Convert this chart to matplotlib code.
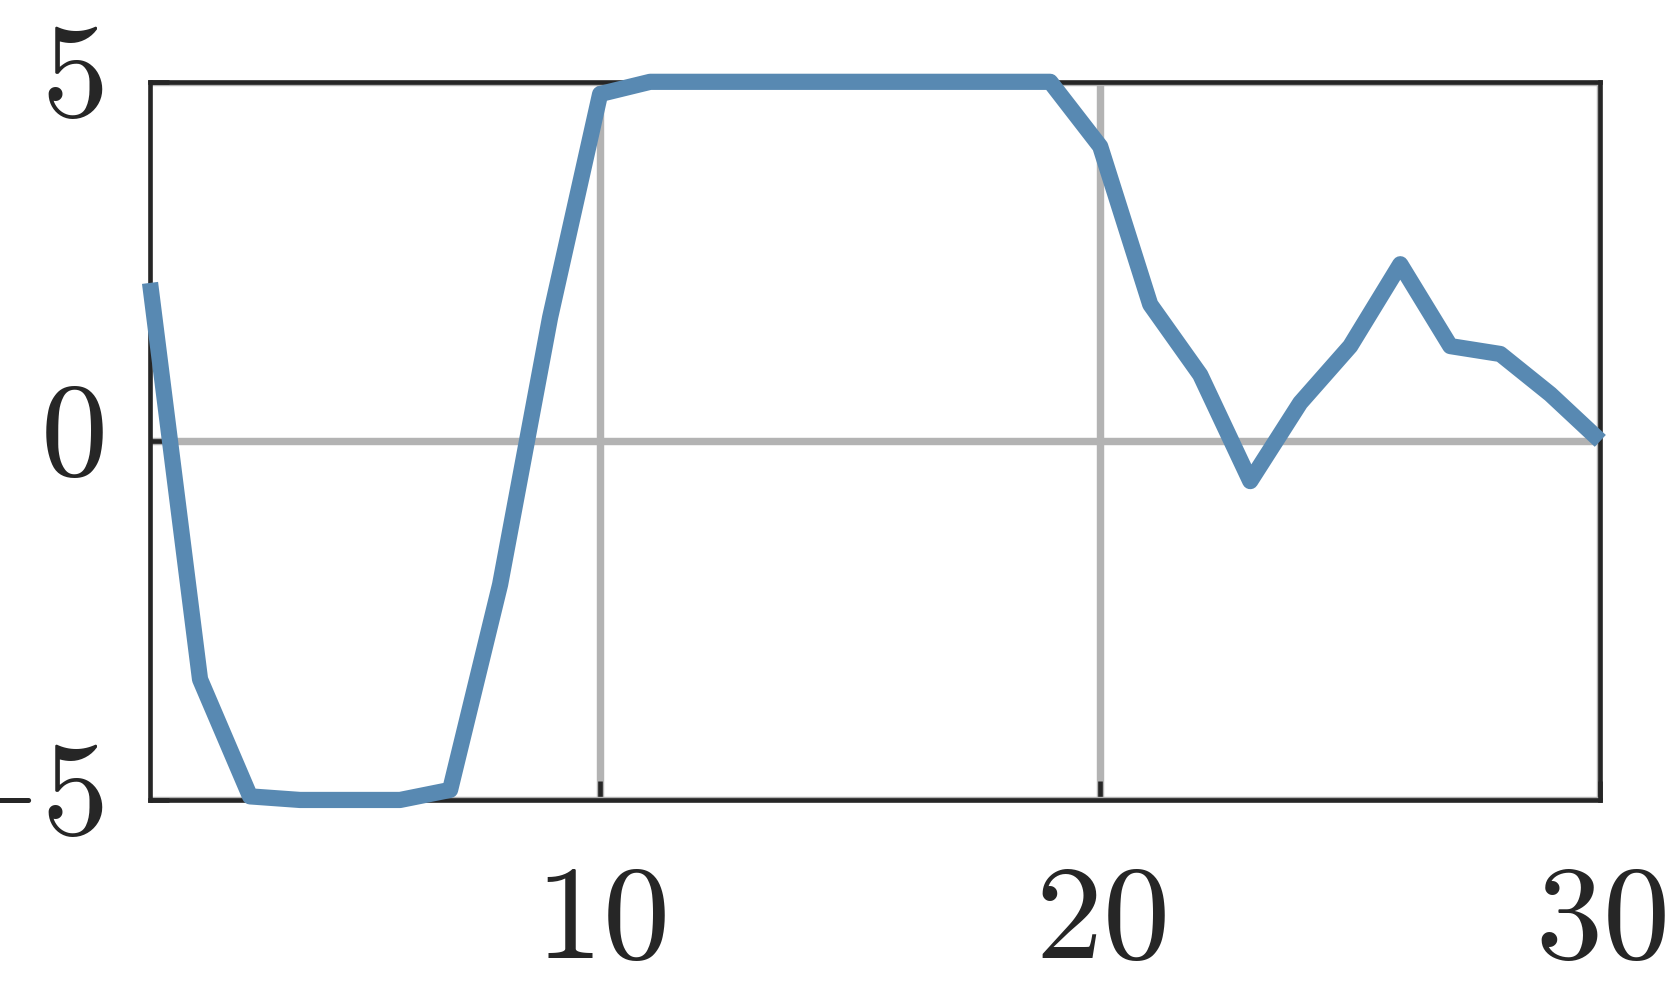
import matplotlib
matplotlib.use('Agg')
import matplotlib.pyplot as plt
from matplotlib.transforms import ScaledTranslation

x_vals = list(range(1, 31))
y_vals = [2.2, -3.32, -4.95, -5.0, -5.0, -5.0, -4.86, -2.0, 1.72, 4.83,
          5.0, 5.0, 5.0, 5.0, 5.0, 5.0, 5.0, 5.0, 5.0, 4.1,
          1.9, 0.92, -0.56, 0.53, 1.32, 2.46, 1.32, 1.21, 0.65, 0.0]
x_ticks = [10, 20, 30]
y_ticks = [-5, 0, 5]

plt.rcParams['mathtext.fontset'] = 'cm'
fig = plt.figure(figsize=(5, 3), dpi=333.4)
ax = fig.add_axes([0.09, 0.2, 0.87, 0.718])

ax.plot(x_vals, y_vals, color='#5889b2', linewidth=3.5, clip_on=False,
        zorder=3, solid_capstyle='butt')
ax.set_xlim(1, 30)
ax.set_ylim(-5, 5)
ax.set_xticks(x_ticks)
ax.set_xticklabels(['$%d$' % t for t in x_ticks])
ax.set_yticks(y_ticks)
ax.set_yticklabels(['$%d$' % t for t in y_ticks])
ax.grid(True, color='#b3b3b3', linewidth=1.6)
ax.set_axisbelow(True)
for s in ax.spines.values():
    s.set_color('#262626')
    s.set_linewidth(1.0)
ax.tick_params(axis='both', direction='in', length=4, width=1.0,
               color='#262626', labelcolor='#262626', labelsize=29)
ax.tick_params(axis='x', pad=12)
ax.tick_params(axis='y', pad=10)

# nudge y labels up a bit, like the original
shift = ScaledTranslation(0, 3.7 / 72, fig.dpi_scale_trans)
for lab in ax.get_yticklabels():
    lab.set_transform(lab.get_transform() + shift)

fig.savefig('out.png', dpi=333.4)
